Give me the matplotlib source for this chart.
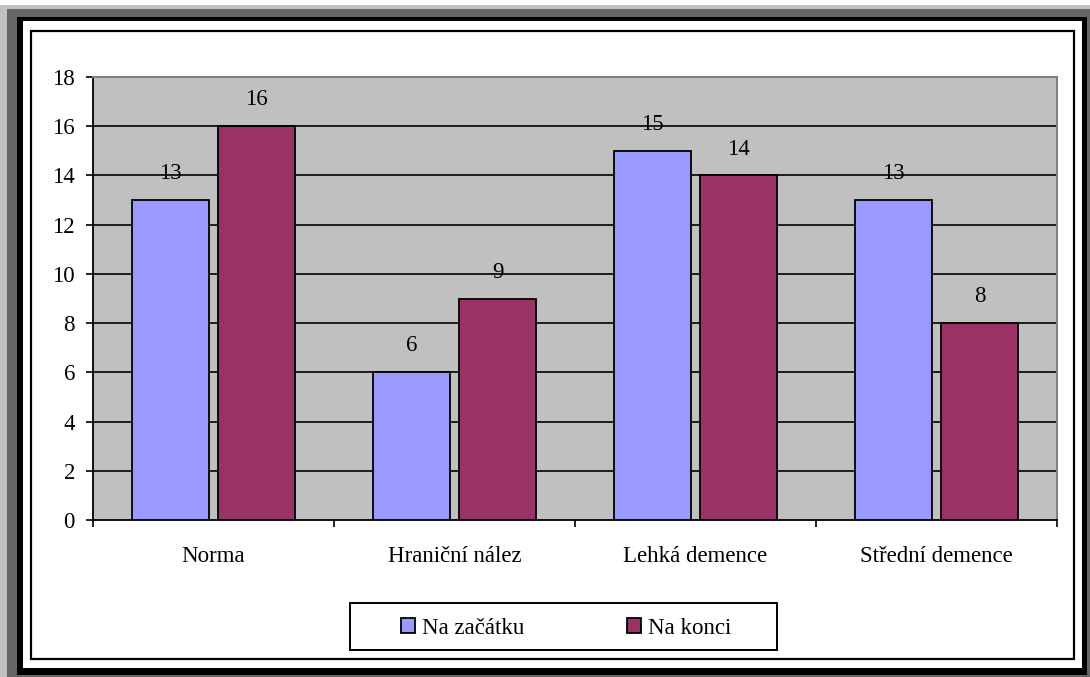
import matplotlib
matplotlib.use("Agg")
import matplotlib.pyplot as plt
from matplotlib.patches import Rectangle, Patch
import numpy as np

plt.rcParams["font.family"] = ["Liberation Serif", "DejaVu Serif"]

categories = ["Norma", "Hraniční nález", "Lehká demence", "Střední demence"]
start_values = [13, 6, 15, 13]
end_values = [16, 9, 14, 8]
series_names = ["Na začátku", "Na konci"]
y_ticks = [0, 2, 4, 6, 8, 10, 12, 14, 16, 18]

W, H = 1090, 677
fig = plt.figure(figsize=(W / 100, H / 100), dpi=100)


def box(x0, y0, x1, y1, **kw):
    # pixel coords from the top-left corner
    r = Rectangle((x0 / W, 1 - y1 / H), (x1 - x0) / W, (y1 - y0) / H,
                  transform=fig.transFigure, **kw)
    fig.add_artist(r)
    return r


# picture frame around the chart
box(0, 5, 1090, 677, fc="#C0C0C0", ec="none", zorder=-10)
box(7, 9, 1090, 677, fc="#666666", ec="none", zorder=-9)
box(17, 17, 1087, 675, fc="black", ec="none", zorder=-8)
box(23, 21, 1082, 668, fc="white", ec="none", zorder=-7)
box(31, 31, 1074, 659, fc="white", ec="black", lw=1.6, zorder=-6)

ax = fig.add_axes([93 / W, 1 - 520 / H, (1057 - 93) / W, (520 - 77) / H])
ax.set_facecolor("#C0C0C0")

x = np.arange(len(categories))
width = 0.32
off = 0.1785
blue = "#9999FF"
red = "#993366"
b1 = ax.bar(x - off, start_values, width, color=blue, edgecolor="black", lw=1.3, zorder=3)
b2 = ax.bar(x + off, end_values, width, color=red, edgecolor="black", lw=1.3, zorder=3)

for bars in (b1, b2):
    for rect in bars:
        h = rect.get_height()
        ax.annotate(f"{h:g}", (rect.get_x() + rect.get_width() / 2, h),
                    xytext=(0, 19), textcoords="offset points",
                    ha="center", va="center", fontsize=16.5, zorder=4)

ax.set_ylim(0, 18)
ax.set_xlim(-0.5, len(categories) - 0.5)
ax.set_yticks(y_ticks)
ax.set_yticklabels([str(v) for v in y_ticks], fontsize=16.5)
for v in y_ticks[1:-1]:
    ax.axhline(v, color="black", lw=1.2, zorder=1)

ax.set_xticks(np.arange(-0.5, len(categories), 1.0))
ax.set_xticklabels([])
ax.set_xticks(x, minor=True)
ax.set_xticklabels(categories, minor=True, fontsize=16.5)
ax.tick_params(axis="x", which="minor", length=0, pad=19)
ax.tick_params(axis="x", which="major", direction="out", length=5, width=1.2)
ax.tick_params(axis="y", direction="out", length=5, width=1.2, pad=8)

for side in ("left", "bottom"):
    ax.spines[side].set_color("black")
    ax.spines[side].set_linewidth(1.3)
for side in ("top", "right"):
    ax.spines[side].set_color("#808080")
    ax.spines[side].set_linewidth(1.5)

# legend box
box(350, 603, 777, 650, fc="white", ec="black", lw=1.4, zorder=-1)
handles = [Patch(fc=blue, ec="black", lw=1.3), Patch(fc=red, ec="black", lw=1.3)]
fig.legend(handles, series_names, loc="center", bbox_to_anchor=(566 / W, 1 - 628 / H),
           ncol=2, frameon=False, fontsize=16.5, handlelength=0.6, handleheight=0.6,
           handletextpad=0.3, columnspacing=4.5, borderpad=0)

fig.savefig("out.png", dpi=100)
